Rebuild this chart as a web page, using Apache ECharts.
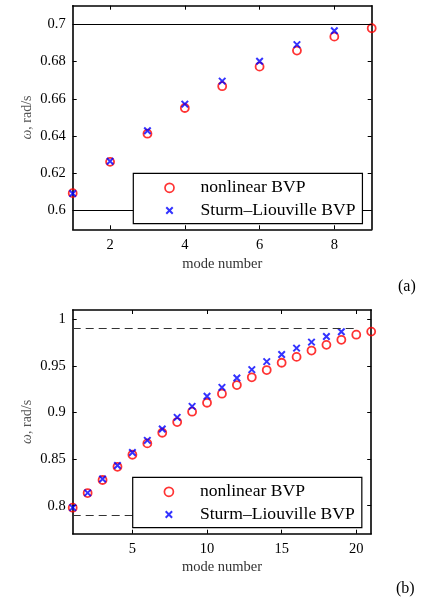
<!DOCTYPE html>
<html><head><meta charset="utf-8">
<script src="https://cdn.jsdelivr.net/npm/echarts@6/dist/echarts.min.js"></script>
<style>html,body{margin:0;padding:0;background:#fff}#c{width:422px;height:599px}</style>
</head><body><div id="c"></div>
<script>
// ---- Data: panel (a) ----
const modesA = [1, 2, 3, 4, 5, 6, 7, 8, 9];
const nonlinearA = [0.6094, 0.6262, 0.6413, 0.6551, 0.6668, 0.6773, 0.6859, 0.6934, 0.6979];
const modesSLA = [1, 2, 3, 4, 5, 6, 7, 8];
const sturmA = [0.6092, 0.6265, 0.6429, 0.6572, 0.6695, 0.6802, 0.6891, 0.6966];
const xTicksA = [2, 4, 6, 8];
const yTicksA = [0.6, 0.62, 0.64, 0.66, 0.68, 0.7];
const refLinesA = [0.6, 0.7];

// ---- Data: panel (b) ----
const modesB = [1,2,3,4,5,6,7,8,9,10,11,12,13,14,15,16,17,18,19,20,21];
const nonlinearB = [0.7979,0.8136,0.8276,0.8418,0.8547,0.8669,0.8783,0.8898,0.9009,0.9105,0.9202,0.9295,0.9378,0.9456,0.9534,0.9597,0.9665,0.9726,0.9780,0.9835,0.9868];
const modesSLB = [1,2,3,4,5,6,7,8,9,10,11,12,13,14,15,16,17,18,19];
const sturmB = [0.7980,0.8138,0.8286,0.8432,0.8572,0.8701,0.8823,0.8948,0.9066,0.9174,0.9270,0.9371,0.9460,0.9546,0.9622,0.9691,0.9755,0.9816,0.9866];
const xTicksB = [5, 10, 15, 20];
const yTicksB = [0.8, 0.85, 0.9, 0.95, 1];
const refLinesB = [0.79, 0.99];
const refSpanB = [1, 20];

const names = ['nonlinear BVP', 'Sturm\u2013Liouville BVP'];
const FONT = 'Liberation Serif';
const CROSS = 'path://M0,0L10,10M10,0L0,10';
const CROSS_ICON = 'path://M-2,-2L-2,-2M0,0L10,10M10,0L0,10M12,12L12,12';

const zip = (xs, ys) => ys.map((y, i) => [xs[i], y]);

function xAxis(gridIndex, position, min, max, ticks, showLabel, margin, nameGap) {
  return {
    type: 'value', gridIndex, position, min, max,
    name: showLabel ? 'mode number' : '',
    nameLocation: 'middle', nameGap: nameGap || 26, nameMoveOverlap: false,
    nameTextStyle: { fontFamily: FONT, fontSize: 14.5, color: '#333' },
    axisLine: { show: true, onZero: false, lineStyle: { color: '#000', width: 1.6 } },
    axisTick: { show: true, inside: true, length: 4, customValues: ticks, lineStyle: { color: '#000', width: 1 } },
    axisLabel: { show: showLabel, customValues: ticks, margin, fontFamily: FONT, fontSize: 14.5, color: '#000' },
    splitLine: { show: false }
  };
}
function yAxis(gridIndex, position, min, max, ticks, showLabel) {
  return {
    type: 'value', gridIndex, position, min, max,
    name: showLabel ? '{i|\u03c9}, rad/s' : '',
    nameLocation: 'middle', nameGap: 38, nameMoveOverlap: false,
    nameTextStyle: { fontFamily: FONT, fontSize: 14, color: '#555', rich: { i: { fontFamily: FONT, fontSize: 14, fontStyle: 'italic', color: '#555' } } },
    axisLine: { show: true, onZero: false, lineStyle: { color: '#000', width: 1.6 } },
    axisTick: { show: true, inside: true, length: 4, customValues: ticks, lineStyle: { color: '#000', width: 1 } },
    axisLabel: { show: showLabel, customValues: ticks, margin: 7, fontFamily: FONT, fontSize: 14.5, color: '#000' },
    splitLine: { show: false }
  };
}
function legend(left, top) {
  return {
    orient: 'vertical', left, top, selectedMode: false, z: 20,
    data: [
      { name: names[0], itemStyle: { borderWidth: 1.7 } },
      { name: names[1], icon: CROSS_ICON, itemStyle: { borderWidth: 2 } }
    ],
    itemWidth: 52, itemHeight: 9, itemGap: 4.7,
    padding: [5.5, 7, 4.2, 30.7],
    borderColor: '#000', borderWidth: 1.2, borderRadius: 0, backgroundColor: '#fff',
    textStyle: { fontFamily: FONT, fontSize: 17.6, color: '#000', lineHeight: 17 }
  };
}
function circles(name, xi, yi, data, markLine) {
  return {
    type: 'scatter', name, xAxisIndex: xi, yAxisIndex: yi, data, clip: false,
    symbol: 'circle', symbolSize: 8,
    itemStyle: { color: 'rgba(0,0,0,0)', borderColor: '#ff0000', borderWidth: 1.8 },
    markLine, z: 3
  };
}
function crosses(name, xi, yi, data) {
  return {
    type: 'scatter', name, xAxisIndex: xi, yAxisIndex: yi, data, clip: false,
    symbol: CROSS, symbolSize: 6.5, symbolKeepAspect: true,
    itemStyle: { color: '#0000ff', borderColor: '#0000ff', borderWidth: 2 }, z: 4
  };
}

const chart = echarts.init(document.getElementById('c'), null, { renderer: 'canvas' });
chart.setOption({
  animation: false,
  backgroundColor: '#fff',
  grid: [
    { left: 72.7, top: 5.7, width: 299, height: 223.6 },
    { left: 72.7, top: 310, width: 298.5, height: 223.7 }
  ],
  xAxis: [
    xAxis(0, 'bottom', 1, 9, xTicksA, true, 8.5, 27.5),
    xAxis(0, 'top', 1, 9, xTicksA, false, 8),
    xAxis(1, 'bottom', 1, 21, xTicksB, true, 7.5, 26),
    xAxis(1, 'top', 1, 21, xTicksB, false, 7)
  ],
  yAxis: [
    yAxis(0, 'left', 0.59, 0.71, yTicksA, true),
    yAxis(0, 'right', 0.59, 0.71, yTicksA, false),
    yAxis(1, 'left', 0.77, 1.01, yTicksB, true),
    yAxis(1, 'right', 0.77, 1.01, yTicksB, false)
  ],
  legend: [legend(133.3, 173.3), legend(132.7, 477.3)],
  series: [
    circles(names[0], 0, 0, zip(modesA, nonlinearA), {
      silent: true, symbol: 'none', label: { show: false },
      lineStyle: { color: '#000', width: 1, type: 'solid' },
      data: refLinesA.map(v => ({ yAxis: v }))
    }),
    crosses(names[1], 0, 0, zip(modesSLA, sturmA)),
    circles(names[0], 2, 2, zip(modesB, nonlinearB), {
      silent: true, symbol: 'none', label: { show: false },
      lineStyle: { color: '#333', width: 1, type: [8, 5] },
      data: refLinesB.map(v => [{ coord: [refSpanB[0], v] }, { coord: [refSpanB[1], v] }])
    }),
    crosses(names[1], 2, 2, zip(modesSLB, sturmB))
  ],
  graphic: [
    { type: 'text', left: 398, top: 279, style: { text: '(a)', fontFamily: FONT, fontSize: 16, fill: '#000' } },
    { type: 'text', left: 396, top: 581, style: { text: '(b)', fontFamily: FONT, fontSize: 16, fill: '#000' } }
  ]
});
</script>
</body></html>
